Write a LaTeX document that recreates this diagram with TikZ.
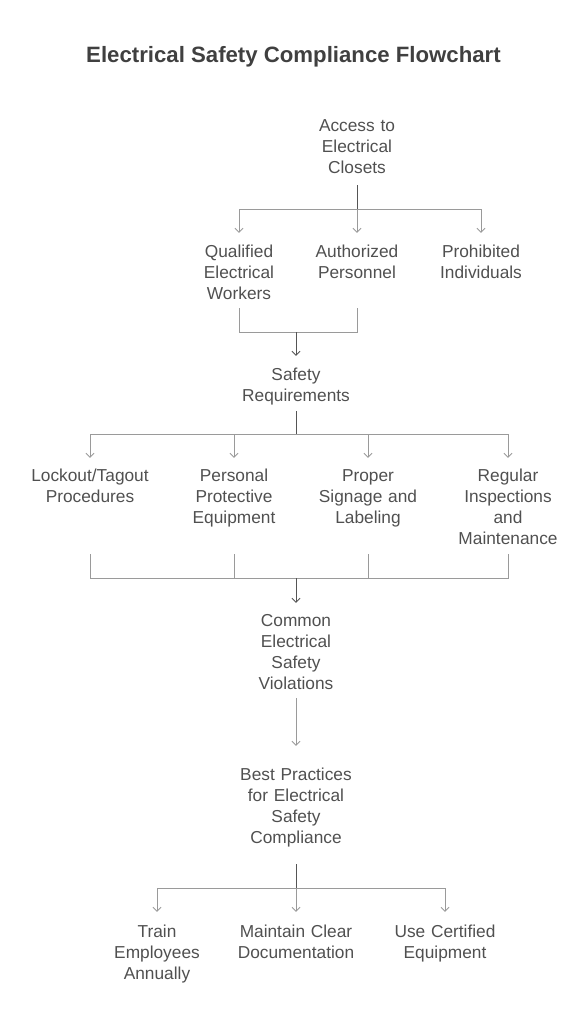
\documentclass[tikz,border=0pt]{standalone}
\usepackage{fontspec}
\setmainfont{Liberation Sans}
\usetikzlibrary{arrows.meta}

\definecolor{txtgray}{HTML}{505050}
\definecolor{titlegray}{HTML}{404040}
\definecolor{linegray}{HTML}{9A9A9A}
\definecolor{trunkgray}{HTML}{555555}

\begin{document}
\begin{tikzpicture}[x=1pt,y=-1pt]

\tikzstyle{every node}=[text=txtgray, inner sep=0pt, anchor=base]
\tikzstyle{box}=[font=\fontsize{17.3}{21}\selectfont, text width=140pt, align=center, text height=24pt]
\tikzstyle{branch}=[draw=linegray, line width=0.8pt, >={Straight Barb[length=4pt,width=8pt]}]
\tikzstyle{trunk}=[draw=trunkgray, line width=0.9pt, >={Straight Barb[length=4pt,width=8pt]}]

\useasboundingbox (0,0) rectangle (581,1024);

\node[font=\fontsize{22.2}{26}\selectfont\bfseries, text=titlegray] (title) at (293.5,63) {Electrical Safety Compliance Flowchart};

\pgfmathsetmacro\x{296}
\pgfmathsetmacro\y{132}

\node[box, text depth=53pt] (access) at (\x+61, \y) {Access to\\Electrical\\Closets};
\coordinate (accessbus) at (\x+61, 209);

\pgfmathsetmacro\y{257}
\node[box, text depth=51pt] (qualified) at (239, \y) {Qualified\\Electrical\\Workers};
\node[box, text depth=51pt] (authorized) at (\x+61, \y) {Authorized\\Personnel};
\node[box, text depth=51pt] (prohibited) at (481, \y) {Prohibited\\Individuals};

\draw[trunk] (access.south) -- (accessbus);
\draw[branch,->] (accessbus) -| (qualified.north);
\draw[branch,->] (accessbus) -- (authorized.north);
\draw[branch,->] (accessbus) -| (prohibited.north);

\coordinate (staffbus) at (\x, 332);
\draw[branch] (qualified.south) |- (staffbus);
\draw[branch] (authorized.south) |- (staffbus);

\pgfmathsetmacro\y{380}
\node[box, text depth=31pt] (safety) at (\x, \y) {Safety\\Requirements};
\draw[trunk,->] (staffbus) -- (safety.north);

\coordinate (safetybus) at (\x, 434);
\draw[trunk] (safety.south) -- (safetybus);

\pgfmathsetmacro\y{481}
\node[box, text height=23pt, text depth=73pt] (lockout) at (90, \y) {Lockout/Tagout\\Procedures};
\node[box, text height=23pt, text depth=73pt] (ppe) at (234, \y) {Personal\\Protective\\Equipment};
\node[box, text height=23pt, text depth=73pt] (signage) at (368, \y) {Proper\\Signage and\\Labeling};
\node[box, text height=23pt, text depth=73pt] (inspections) at (508, \y) {Regular\\Inspections\\and\\Maintenance};

\draw[branch,->] (safetybus) -| (lockout.north);
\draw[branch,->] (safetybus) -| (ppe.north);
\draw[branch,->] (safetybus) -| (signage.north);
\draw[branch,->] (safetybus) -| (inspections.north);

\coordinate (practicebus) at (\x, 578);
\draw[branch] (lockout.south) |- (practicebus);
\draw[branch] (ppe.south) |- (practicebus);
\draw[branch] (signage.south) |- (practicebus);
\draw[branch] (inspections.south) |- (practicebus);

\pgfmathsetmacro\y{626}
\node[box, text height=23pt, text depth=72pt] (violations) at (\x, \y) {Common\\Electrical\\Safety\\Violations};
\draw[trunk,->] (practicebus) -- (violations.north);

\pgfmathsetmacro\y{780}
\node[box, text height=34pt, text depth=84pt] (best) at (\x, \y) {Best Practices\\for Electrical\\Safety\\Compliance};
\draw[branch,->] (violations.south) -- (best.north);

\coordinate (bestbus) at (\x, 888);
\draw[trunk] (best.south) -- (bestbus);

\pgfmathsetmacro\y{937}
\node[box, text height=25pt] (train) at (157, \y) {Train\\Employees\\Annually};
\node[box, text height=25pt] (documentation) at (\x, \y) {Maintain Clear\\Documentation};
\node[box, text height=25pt] (certified) at (445, \y) {Use Certified\\Equipment};

\draw[branch,->] (bestbus) -| (train.north);
\draw[branch,->] (bestbus) -- (documentation.north);
\draw[branch,->] (bestbus) -| (certified.north);

\end{tikzpicture}
\end{document}
